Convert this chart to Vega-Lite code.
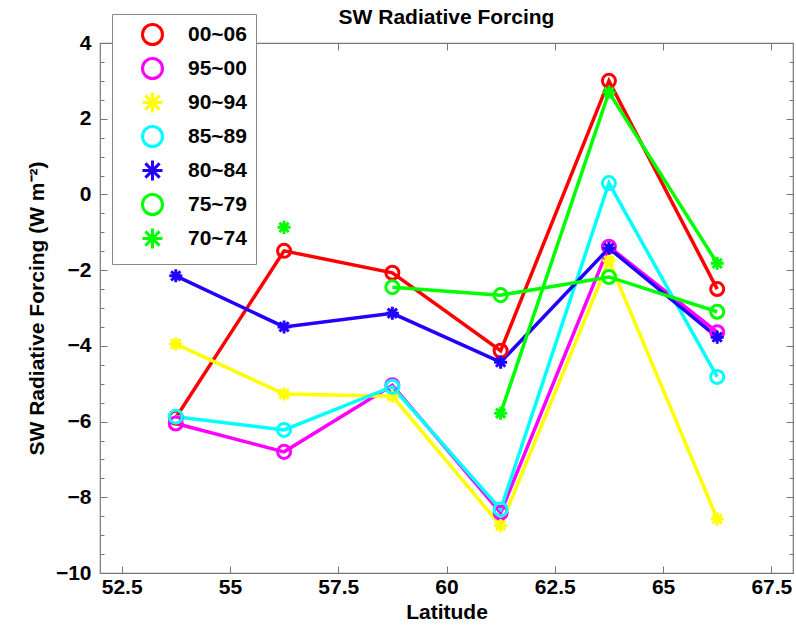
{
  "$schema": "https://vega.github.io/schema/vega-lite/v6.json",
  "width": 693,
  "height": 530,
  "autosize": "none",
  "padding": {"left": 100, "top": 43, "right": 3, "bottom": 54},
  "background": "white",
  "config": {
    "font": "Liberation Sans",
    "view": {"stroke": "#777", "strokeWidth": 1.2},
    "axis": {"grid": false, "domainColor": "#777", "tickColor": "#777", "labelColor": "black", "labelFont": "Liberation Sans", "labelFontSize": 21, "labelFontWeight": "bold", "titleFont": "Liberation Sans", "titleFontSize": 21, "titleFontWeight": "bold", "titleColor": "black"},
    "legend": {"labelFont": "Liberation Sans"}
  },
  "title": {"text": "SW Radiative Forcing", "fontSize": 21, "fontWeight": "bold", "font": "Liberation Sans", "color": "black", "anchor": "middle", "frame": "group", "offset": 4, "dy": 18},
  "data": {
    "values": [
      {"series": "00~06", "seg": "00~06", "lat": 53.75, "val": -5.9},
      {"series": "00~06", "seg": "00~06", "lat": 56.25, "val": -1.49},
      {"series": "00~06", "seg": "00~06", "lat": 58.75, "val": -2.07},
      {"series": "00~06", "seg": "00~06", "lat": 61.25, "val": -4.13},
      {"series": "00~06", "seg": "00~06", "lat": 63.75, "val": 3.0},
      {"series": "00~06", "seg": "00~06", "lat": 66.25, "val": -2.5},
      {"series": "95~00", "seg": "95~00", "lat": 53.75, "val": -6.05},
      {"series": "95~00", "seg": "95~00", "lat": 56.25, "val": -6.8},
      {"series": "95~00", "seg": "95~00", "lat": 58.75, "val": -5.04},
      {"series": "95~00", "seg": "95~00", "lat": 61.25, "val": -8.41},
      {"series": "95~00", "seg": "95~00", "lat": 63.75, "val": -1.38},
      {"series": "95~00", "seg": "95~00", "lat": 66.25, "val": -3.64},
      {"series": "90~94", "seg": "90~94", "lat": 53.75, "val": -3.95},
      {"series": "90~94", "seg": "90~94", "lat": 56.25, "val": -5.27},
      {"series": "90~94", "seg": "90~94", "lat": 58.75, "val": -5.33},
      {"series": "90~94", "seg": "90~94", "lat": 61.25, "val": -8.75},
      {"series": "90~94", "seg": "90~94", "lat": 63.75, "val": -1.75},
      {"series": "90~94", "seg": "90~94", "lat": 66.25, "val": -8.57},
      {"series": "85~89", "seg": "85~89", "lat": 53.75, "val": -5.87},
      {"series": "85~89", "seg": "85~89", "lat": 56.25, "val": -6.22},
      {"series": "85~89", "seg": "85~89", "lat": 58.75, "val": -5.08},
      {"series": "85~89", "seg": "85~89", "lat": 61.25, "val": -8.32},
      {"series": "85~89", "seg": "85~89", "lat": 63.75, "val": 0.3},
      {"series": "85~89", "seg": "85~89", "lat": 66.25, "val": -4.82},
      {"series": "80~84", "seg": "80~84", "lat": 53.75, "val": -2.15},
      {"series": "80~84", "seg": "80~84", "lat": 56.25, "val": -3.5},
      {"series": "80~84", "seg": "80~84", "lat": 58.75, "val": -3.14},
      {"series": "80~84", "seg": "80~84", "lat": 61.25, "val": -4.43},
      {"series": "80~84", "seg": "80~84", "lat": 63.75, "val": -1.42},
      {"series": "80~84", "seg": "80~84", "lat": 66.25, "val": -3.77},
      {"series": "75~79", "seg": "75~79", "lat": 58.75, "val": -2.45},
      {"series": "75~79", "seg": "75~79", "lat": 61.25, "val": -2.66},
      {"series": "75~79", "seg": "75~79", "lat": 63.75, "val": -2.18},
      {"series": "75~79", "seg": "75~79", "lat": 66.25, "val": -3.1},
      {"series": "70~74", "seg": "70~74a", "lat": 56.25, "val": -0.87},
      {"series": "70~74", "seg": "70~74b", "lat": 61.25, "val": -5.78},
      {"series": "70~74", "seg": "70~74b", "lat": 63.75, "val": 2.7},
      {"series": "70~74", "seg": "70~74b", "lat": 66.25, "val": -1.82}
    ]
  },
  "resolve": {"axis": {"x": "independent", "y": "independent"}},
  "layer": [
    {
      "mark": {"type": "line", "strokeWidth": 3.5, "clip": true},
      "encoding": {
        "x": {"field": "lat", "type": "quantitative", "scale": {"domain": [52, 68], "nice": false, "zero": false},
          "axis": {"orient": "bottom", "title": "Latitude", "values": [52.5, 55, 57.5, 60, 62.5, 65, 67.5], "labelExpr": "toString(datum.value)", "tickSize": -7, "labelPadding": 10, "titlePadding": 4, "domain": false}},
        "y": {"field": "val", "type": "quantitative", "scale": {"domain": [-10, 4], "nice": false, "zero": false},
          "axis": {"orient": "left", "title": "SW Radiative Forcing (W m⁻²)", "values": [-10, -9.5, -9, -8.5, -8, -7.5, -7, -6.5, -6, -5.5, -5, -4.5, -4, -3.5, -3, -2.5, -2, -1.5, -1, -0.5, 0, 0.5, 1, 1.5, 2, 2.5, 3, 3.5, 4],
            "labelExpr": "datum.value % 2 === 0 ? replace(toString(datum.value), '-', '−') : ''",
            "tickSize": {"condition": {"test": "datum.value % 2 === 0", "value": -7}, "value": -4},
            "labelPadding": 16, "titlePadding": 8, "domain": false}},
        "color": {"field": "series", "type": "nominal",
          "scale": {"domain": ["00~06", "95~00", "90~94", "85~89", "80~84", "75~79", "70~74"], "range": ["#ff0000", "#ff00ff", "#ffff00", "#00ffff", "#2200ff", "#00ff00", "#00ff00"]}},
        "detail": {"field": "seg"},
        "order": {"field": "lat"}
      }
    },
    {
      "mark": {"type": "point", "filled": false, "size": 170, "strokeWidth": 3, "opacity": 1},
      "encoding": {
        "x": {"field": "lat", "type": "quantitative",
          "axis": {"orient": "top", "title": null, "labels": false, "values": [52.5, 55, 57.5, 60, 62.5, 65, 67.5], "tickSize": -7, "domain": false}},
        "y": {"field": "val", "type": "quantitative",
          "axis": {"orient": "right", "title": null, "labels": false, "values": [-10, -9.5, -9, -8.5, -8, -7.5, -7, -6.5, -6, -5.5, -5, -4.5, -4, -3.5, -3, -2.5, -2, -1.5, -1, -0.5, 0, 0.5, 1, 1.5, 2, 2.5, 3, 3.5, 4],
            "tickSize": {"condition": {"test": "datum.value % 2 === 0", "value": -7}, "value": -4}, "domain": false}},
        "color": {"field": "series", "type": "nominal",
          "legend": {"title": null, "orient": "none", "legendX": 12, "legendY": -29, "padding": 9, "strokeColor": "#888", "fillColor": "white",
            "labelFontSize": 21, "labelFontWeight": "bold", "labelColor": "black", "symbolSize": 400, "symbolStrokeWidth": 3, "symbolOffset": 20, "labelOffset": 24, "rowPadding": 1}},
        "shape": {"field": "series", "type": "nominal",
          "scale": {"domain": ["00~06", "95~00", "90~94", "85~89", "80~84", "75~79", "70~74"], "range": ["circle", "circle", "M0,-1V1M-1,0H1M-0.71,-0.71L0.71,0.71M-0.71,0.71L0.71,-0.71", "circle", "M0,-1V1M-1,0H1M-0.71,-0.71L0.71,0.71M-0.71,0.71L0.71,-0.71", "circle", "M0,-1V1M-1,0H1M-0.71,-0.71L0.71,0.71M-0.71,0.71L0.71,-0.71"]},
          "legend": {"title": null, "orient": "none", "legendX": 12, "legendY": -29, "padding": 9, "strokeColor": "#888", "fillColor": "white",
            "labelFontSize": 21, "labelFontWeight": "bold", "labelColor": "black", "symbolSize": 400, "symbolStrokeWidth": 3, "symbolOffset": 20, "labelOffset": 24, "rowPadding": 1}}
      }
    }
  ]
}
